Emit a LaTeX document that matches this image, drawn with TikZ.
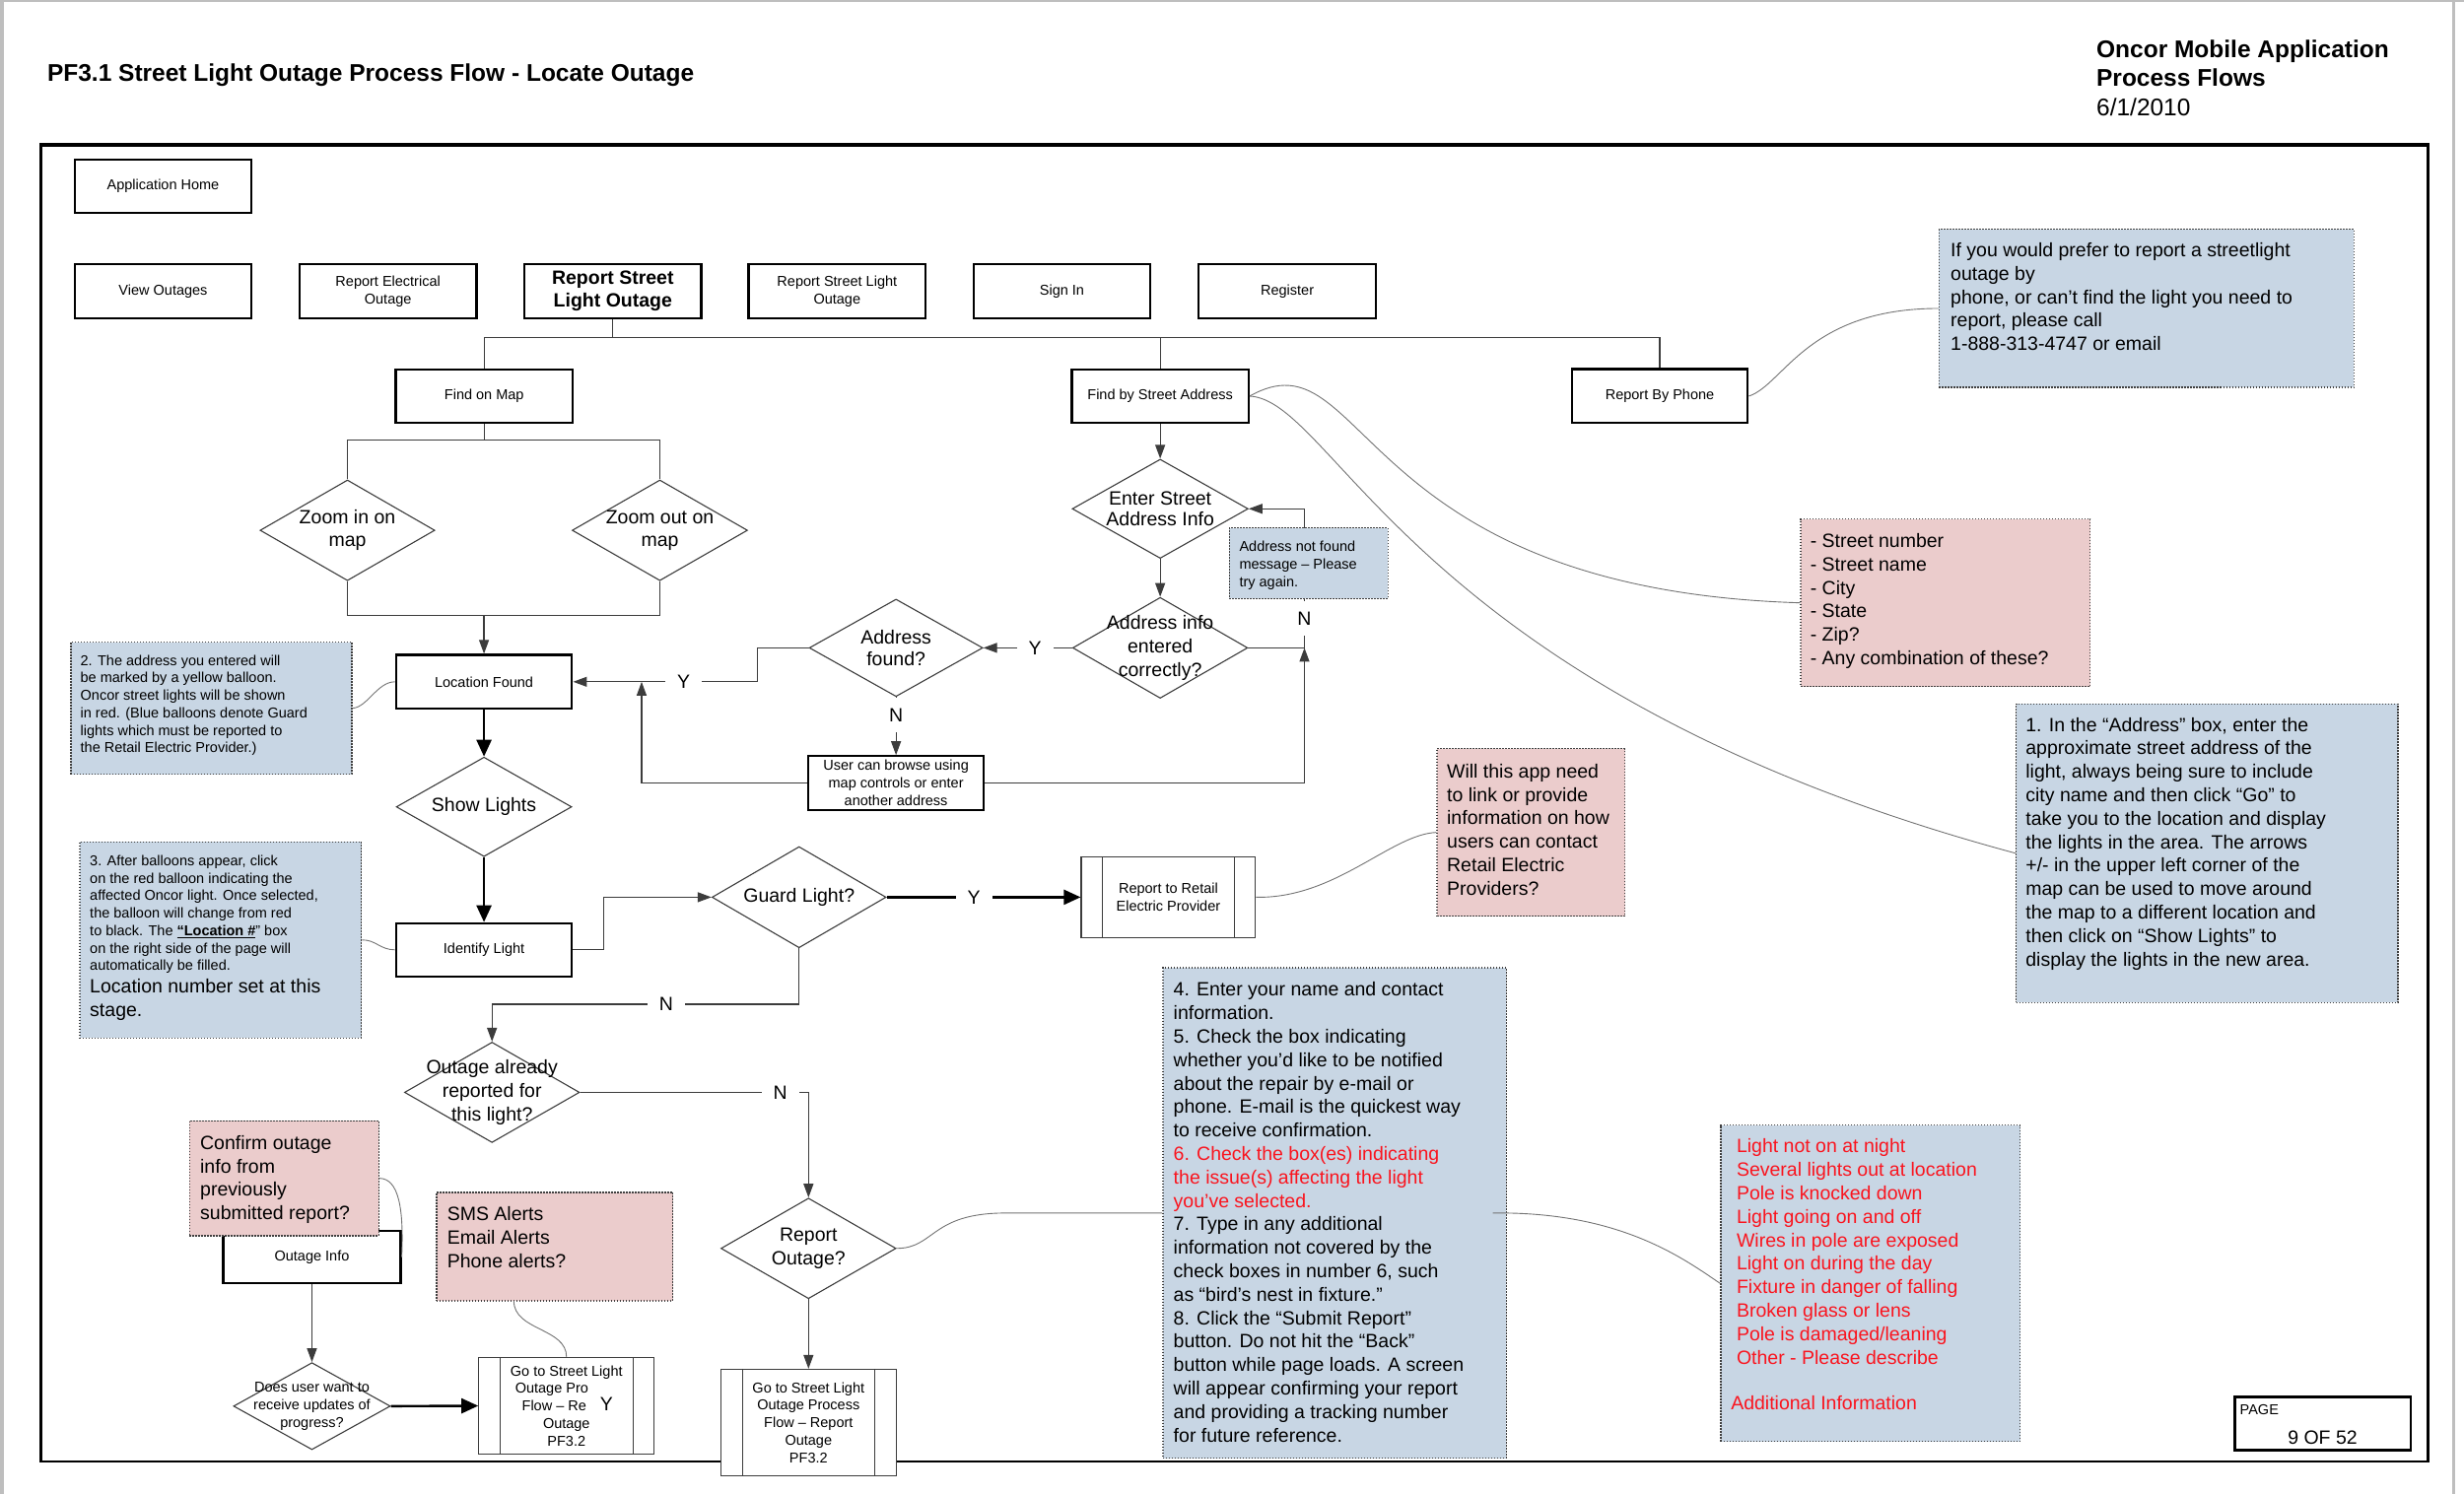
\documentclass[tikz,border=0pt]{standalone}
\usepackage{fontspec}
\setmainfont{Liberation Sans}
\usetikzlibrary{shapes.geometric,arrows.meta,fit}
\definecolor{nblue}{RGB}{200,214,228}
\definecolor{npink}{RGB}{235,204,204}
\definecolor{nred}{RGB}{250,20,30}
\definecolor{edgec}{RGB}{60,60,60}
\definecolor{pagegray}{RGB}{190,190,190}
\newcommand{\fs}[2]{\fontsize{#1}{#2}\selectfont}
\newcommand{\upx}{1.5944pt}
\tikzset{
  sz/.style 2 args={minimum width=#1*\upx, minimum height=#2*\upx},
  pbox/.style={draw=black, line width=2.2pt, fill=white, inner sep=0pt, align=center, font=\fs{14.5}{18}},
  ppbox/.style={draw=edgec, line width=1.1pt, fill=white, inner sep=0pt, align=center, font=\fs{14.5}{17.8}},
  dia/.style={diamond, draw=edgec, line width=1.1pt, fill=white, inner sep=0pt},
  dtext/.style={inner sep=0pt, align=center, font=\fs{19.5}{23.5}},
  bnote/.style={draw=black!75, fill=nblue, line width=1.4pt, dash pattern=on 1.5pt off 1.5pt, inner sep=0pt},
  pnote/.style={bnote, fill=npink},
  ntext/.style={anchor=north west, inner sep=0pt, align=left, font=\fs{19.5}{23.8}},
  stext/.style={anchor=north west, inner sep=0pt, align=left, font=\fs{14.5}{17.7}},
  conn/.style={draw=edgec, line width=1.2pt},
  arr/.style={conn, -{Triangle[length=14pt,width=10pt]}},
  bigarr/.style={draw=black, line width=2.4pt, -{Triangle[length=17pt,width=15pt]}},
  ann/.style={draw=black!55, line width=0.9pt},
  yn/.style={fill=white, inner xsep=12pt, inner ysep=11pt, font=\fs{19.5}{23}},
}
\begin{document}
\begin{tikzpicture}[x=1.5944pt,y=-1.5944pt]
\useasboundingbox (0,0) rectangle (1568,951);
% page edges
\fill[pagegray] (0,0) rectangle (2.5,951);
\fill[pagegray] (0,0) rectangle (1568,1.3);
\fill[pagegray] (1560.5,0) rectangle (1562.5,951);

% header
\node[anchor=base west, inner sep=0pt, font=\bfseries\fs{24.5}{29.5}] (title) at (30,51.5) {PF3.1 Street Light Outage Process Flow - Locate Outage};
\node[anchor=north west, inner sep=0pt, align=left, font=\fs{24.5}{29.5}] (hdr) at (1334,25.3) {\textbf{Oncor Mobile Application}\\\textbf{Process Flows}\\6/1/2010};

% frame
\draw[line width=2.4pt] (26,92) rectangle (1545,930.3);
\draw[line width=4pt] (26,92) -- (1545,92);

% top boxes
\node[pbox, sz={112.6}{34}] (apphome) at (103.8,118.4) {Application Home};
\node[pbox, sz={112.6}{34.7}] (viewout) at (103.8,185.2) {View Outages};
\node[pbox, sz={112.6}{34.7}] (repelec) at (246.9,185.2) {Report Electrical\\Outage};
\node[pbox, sz={112.6}{34.7}, font=\bfseries\fs{19.5}{23.3}] (rslo) at (390,185.2) {Report Street\\Light Outage};
\node[pbox, sz={112.6}{34.7}] (rslo2) at (532.7,185.2) {Report Street Light\\Outage};
\node[pbox, sz={112.6}{34.7}] (signin) at (675.8,185.2) {Sign In};
\node[pbox, sz={112.6}{34.7}] (register) at (819.2,185.2) {Register};

\node[pbox, sz={112.5}{34.3}] (findmap) at (308.1,252.1) {Find on Map};
\node[pbox, sz={112.5}{34.3}] (findaddr) at (738.3,252.1) {Find by Street Address};
\node[pbox, sz={112}{34.4}] (byphone) at (1056.2,252.1) {Report By Phone};

% map branch
\node[dia, sz={111.2}{64.1}] (zin) at (221.1,337.5) {};
\node[dtext] (zint) at (zin.center) {Zoom in on\\map};
\node[dia, sz={111.6}{64.1}] (zout) at (419.9,337.5) {};
\node[dtext] (zoutt) at (zout.center) {Zoom out on\\map};
\node[pbox, sz={112}{34.3}] (locfound) at (308,433.9) {Location Found};
\node[dia, sz={111.6}{63.3}] (showl) at (308,513.5) {};
\node[dtext] (showlt) at (showl.center) {Show Lights};
\node[pbox, sz={112}{33.9}] (identify) at (308,604.5) {Identify Light};
\node[dia, sz={110.8}{64.4}] (guard) at (508.5,571) {};
\node[dtext] (guardt) at (guard.center) {Guard Light?};
\node[ppbox, sz={111}{51}] (retail) at (743.5,571) {Report to Retail\\Electric Provider};
\node[dia, sz={111.4}{63.9}] (outage) at (313.1,695.2) {};
\node[dtext, font=\fs{19.5}{24}] (outaget) at (outage.center) {Outage already\\reported for\\this light?};
\node[dia, sz={111.4}{64}] (reportout) at (514.5,794.5) {};
\node[dtext, font=\fs{19.5}{24}] (reportoutt) at (reportout.center) {Report\\Outage?};
\node[ppbox, sz={111.4}{67.9}] (goto2) at (514.5,905.4) {Go to Street Light\\Outage Process\\Flow – Report\\Outage\\PF3.2};
\node[ppbox, sz={111.7}{61.6}] (goto1) at (360.5,894.7) {Go to Street Light\\Outage Pro\phantom{cess}\\Flow – Re\phantom{port}\\Outage\\PF3.2};
\node[dia, sz={99.8}{55.4}] (doesuser) at (198.5,894.9) {};
\node[dtext, font=\fs{14.5}{17.8}] (doesusert) at (doesuser.center) {Does user want to\\receive updates of\\progress?};
\node[pbox, sz={112.9}{33.4}] (outinfo) at (198.5,800.1) {Outage Info};

% address branch
\node[dia, sz={111.9}{63.1}] (enter) at (738.3,323.8) {};
\node[dtext, font=\fs{19.5}{21.5}] (entert) at (enter.center) {Enter Street\\Address Info};
\node[dia, sz={111.3}{64.2}] (addrinfo) at (738.3,412.3) {};
\node[dtext, font=\fs{19.5}{24}] (addrinfot) at (addrinfo.center) {Address info\\entered\\correctly?};
\node[dia, sz={110.4}{62}] (addrfound) at (570.2,412.3) {};
\node[dtext, font=\fs{19.5}{22.3}] (addrfoundt) at (addrfound.center) {Address\\found?};
\node[pbox, sz={111.7}{34.1}, font=\fs{14.5}{17.8}] (browse) at (570.2,498.3) {User can browse using\\map controls or enter\\another address};

% predefined-process bars
\foreach \b in {retail,goto1,goto2}{
  \draw[draw=edgec, line width=1.1pt] ([xshift=14*\upx]\b.north west) -- ([xshift=14*\upx]\b.south west);
  \draw[draw=edgec, line width=1.1pt] ([xshift=-14*\upx]\b.north east) -- ([xshift=-14*\upx]\b.south east);
}

% page box
\node[draw, line width=2.6pt, inner sep=0pt, fit={(1422,889.2) (1534,923)}] (pagebox) {};
\node[anchor=base west, inner sep=0pt, font=\fs{14.5}{17}] (paget) at (1425.3,900.3) {PAGE};
\node[anchor=base, inner sep=0pt, font=\fs{19.5}{23}] (pagenum) at (1478,919.1) {9 OF 52};

% connectors
\coordinate (bus) at (390,214.7);
\draw[conn] (rslo.south) -- (bus);
\draw[conn] (findmap.north) -- (findmap.north |- bus) -- (byphone.north |- bus) -- (byphone.north);
\draw[conn] (findaddr.north) -- (findaddr.north |- bus);
\coordinate (mapbus) at (308.1,280.2);
\draw[conn] (findmap.south) -- (mapbus);
\draw[conn] (zin.north) -- (zin.north |- mapbus) -- (zout.north |- mapbus) -- (zout.north);
\coordinate (mapjoin) at (308,391.8);
\draw[conn] (zin.south) -- (zin.south |- mapjoin) -- (zout.south |- mapjoin) -- (zout.south);
\draw[arr] (mapjoin) -- (locfound.north);
\draw[bigarr] (locfound.south) -- (showl.north);
\draw[bigarr] (showl.south) -- (identify.north);
\coordinate (ig) at (384.3,604.5);
\draw[arr] (identify.east) -- (ig) |- (guard.west);
\draw[bigarr] (guard.east) -- (retail.west);
\draw[arr] (guard.south) -- ++(0,35.5) -| (outage.north);
\draw[arr] (outage.east) -| (reportout.north);
\draw[arr] (reportout.south) -- (goto2.north);
\draw[arr] (outinfo.south) -- (doesuser.north);
\draw[bigarr] (doesuser.east) -- (goto1.west);
\draw[arr] (findaddr.south) -- (enter.north);
\draw[arr] (enter.south) -- (addrinfo.north);
\draw[arr] (addrinfo.west) -- (addrfound.east);
\coordinate (afl) at (482,412.3);
\draw[arr] (addrfound.west) -- (afl) |- (locfound.east);
\draw[arr] (addrfound.south) -- (browse.north);
\coordinate (jl) at (408.3,433.9);
\draw[arr] (browse.west) -| (jl);
\coordinate (jr) at (830.1,412.3);
\draw[arr] (browse.east) -| (jr);
\draw[arr] (addrinfo.east) -- (jr) -- (jr |- enter.east) -- (enter.east);

% notes
\node[bnote, fit={(1234,146) (1498,246.6)}] (phone) {};
\node[ntext] (phonet) at (1241.2,154.4) {If you would prefer to report a streetlight\\outage by\\phone, or can't find the light you need to\\report, please call\\1-888-313-4747 or email};
\node[pnote, fit={(1146,330.3) (1330,437)}] (street) {};
\node[ntext] (streett) at (1151.9,339.4) {- Street number\\- Street name\\- City\\- State\\- Zip?\\- Any combination of these?};
\node[bnote, fit={(1283,448) (1526,638)}] (note1) {};
\node[ntext] (note1t) at (1289,456.5) {1. In the “Address” box, enter the\\approximate street address of the\\light, always being sure to include\\city name and then click “Go” to\\take you to the location and display\\the lights in the area. The arrows\\+/- in the upper left corner of the\\map can be used to move around\\the map to a different location and\\then click on “Show Lights” to\\display the lights in the new area.};
\node[pnote, fit={(914.5,476.5) (1034,583)}] (will) {};
\node[ntext] (willt) at (920.7,486) {Will this app need\\to link or provide\\information on how\\users can contact\\Retail Electric\\Providers?};
\node[bnote, fit={(740,616) (958.5,928)}] (note4) {};
\node[ntext] (note4t) at (746.7,625) {4. Enter your name and contact\\information.\\5. Check the box indicating\\whether you’d like to be notified\\about the repair by e-mail or\\phone. E-mail is the quickest way\\to receive confirmation.\\\textcolor{nred}{6. Check the box(es) indicating}\\\textcolor{nred}{the issue(s) affecting the light}\\\textcolor{nred}{you’ve selected.}\\7. Type in any additional\\information not covered by the\\check boxes in number 6, such\\as “bird’s nest in fixture.”\\8. Click the “Submit Report”\\button. Do not hit the “Back”\\button while page loads. A screen\\will appear confirming your report\\and providing a tracking number\\for future reference.};
\node[bnote, fit={(1095,716.1) (1285.5,917.4)}] (redlist) {};
\node[ntext, text=nred] (redlistt) at (1105,724.7) {Light not on at night\\Several lights out at location\\Pole is knocked down\\Light going on and off\\Wires in pole are exposed\\Light on during the day\\Fixture in danger of falling\\Broken glass or lens\\Pole is damaged/leaning\\Other - Please describe};
\node[ntext, text=nred] (addinfo) at (1101.4,888.5) {Additional Information};
\node[bnote, fit={(45.1,408.7) (223.9,492.8)}] (note2) {};
\node[stext] (note2t) at (51.1,416.8) {2. The address you entered will\\be marked by a yellow balloon.\\Oncor street lights will be shown\\in red. (Blue balloons denote Guard\\lights which must be reported to\\the Retail Electric Provider.)};
\node[bnote, fit={(50.7,535.8) (229.9,660.6)}] (note3) {};
\node[stext] (note3t) at (57.1,544.3) {3. After balloons appear, click\\on the red balloon indicating the\\affected Oncor light. Once selected,\\the balloon will change from red\\to black. The \underline{\textbf{“Location \#}}” box\\on the right side of the page will\\automatically be filled.};
\node[ntext, font=\fs{19.5}{24.2}] (note3b) at (57.1,622.7) {Location number set at this\\stage.};
\node[pnote, fit={(120.6,713.3) (241,786.5)}] (confirm) {};
\node[ntext, font=\fs{19.5}{23.6}] (confirmt) at (127.3,722.7) {Confirm outage\\info from\\previously\\submitted report?};
\node[pnote, fit={(277.8,758.9) (428.2,827.9)}] (sms) {};
\node[ntext, font=\fs{19.5}{24}] (smst) at (284.5,767.6) {SMS Alerts\\Email Alerts\\Phone alerts?};
\node[bnote, fit={(782.3,336) (883.3,380.9)}] (notfound) {};
\node[stext, font=\fs{14.5}{18}] (notfoundt) at (788.6,344.1) {Address not found\\message – Please\\try again.};

% annotation curves
\coordinate (c4) at (950,772);
\coordinate (c5) at (327,827.9);
\draw[ann] (byphone.east) .. controls (1135,245) and (1150,196.3) .. (phone.west);
\draw[ann] (findaddr.east) .. controls (870,210) and (860,375) .. (street.west);
\draw[ann] (findaddr.east) .. controls (850,255) and (900,440) .. (note1.west);
\draw[ann] (note2.east) .. controls (234,450) and (240,434) .. (locfound.west);
\draw[ann] (note3.east) .. controls (239,598) and (242,604.5) .. (identify.west);
\draw[ann] (retail.east) .. controls (850,572) and (885,531) .. (will.west);
\draw[ann] (reportout.east) .. controls (595,794.5) and (592,772) .. (640,772) -- (note4.west);
\draw[ann] (c4) .. controls (1030,771) and (1070,800) .. (redlist.west);
\draw[ann] (confirm.east) .. controls (254,750) and (257,770) .. (outinfo.east);
\draw[ann] (c5) .. controls (327,847) and (360.5,845) .. (goto1.north);

% Y / N labels
\node[yn] (ya) at (658.6,412.3) {Y};
\node[yn] (na) at (830.1,393.5) {N};
\node[yn] (yb) at (435.1,433.9) {Y};
\node[yn] (nb) at (570.2,455.1) {N};
\node[yn] (yc) at (619.8,571) {Y};
\node[yn] (nc) at (423.9,638.7) {N};
\node[yn] (nd) at (496.5,695.2) {N};
\node[fill=white, inner sep=0pt, minimum width=18*\upx, minimum height=30*\upx, font=\fs{19.5}{23}] (yd) at (386,893.7) {Y};
\end{tikzpicture}
\end{document}
